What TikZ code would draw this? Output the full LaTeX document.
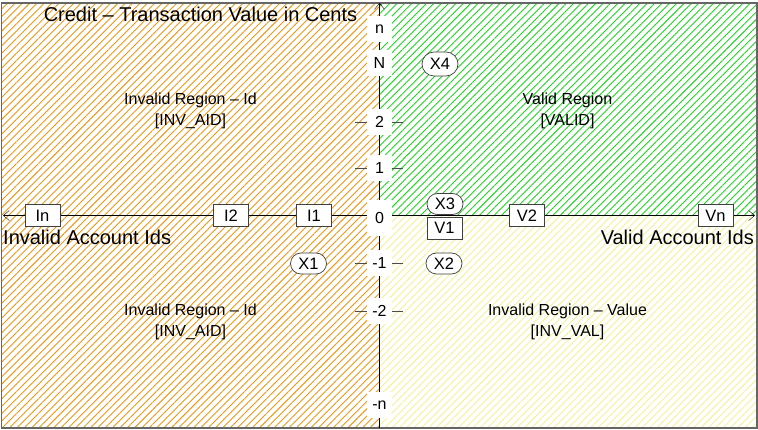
\documentclass[tikz,border=0pt]{standalone}
\usepackage{fontspec}
\setmainfont{Liberation Sans}
\usetikzlibrary{patterns.meta,shapes.misc,arrows.meta}
\definecolor{hatchorange}{RGB}{240,150,20}
\definecolor{hatchgreen}{RGB}{30,215,30}
\definecolor{hatchyellow}{RGB}{245,242,150}
\begin{document}
\begin{tikzpicture}[x=1pt, y=-1pt, >={Straight Barb[length=6pt,width=10pt]}, thin,
        hatch/.style={pattern={Lines[angle=45,distance=5.2pt,line width=0.9pt]}, pattern color=#1},
        valbox/.style={draw=black!75, line width=0.7pt, fill=white, minimum width=35pt, minimum height=22pt, inner sep=0pt, font=\fontsize{16.5}{16.5}\selectfont},
        casebox/.style={rounded rectangle, draw=black!75, line width=0.7pt, fill=white, minimum width=36pt, minimum height=21pt, inner sep=0pt, font=\fontsize{16.5}{16.5}\selectfont},
        ticklab/.style={fill=white, minimum width=25pt, minimum height=26pt, inner sep=0pt, font=\fontsize{16}{16}\selectfont},
        regionlab/.style={align=center, font=\fontsize{16}{21}\selectfont},
        axislab/.style={inner sep=0pt, font=\fontsize{20}{20}\selectfont}]
        \useasboundingbox (0, 0) rectangle (758, 430);
        \fill[white] (0, 0) rectangle (758, 430);
        \fill[hatch=hatchorange] (1.5, 3) rectangle (379.5, 428);
        \fill[hatch=hatchgreen] (379.5, 3) rectangle (757, 215.5);
        \fill[hatch=hatchyellow] (379.5, 215.5) rectangle (757, 428);
        \draw[black!60, line width=1.5pt] (1.5, 3) rectangle (757, 428);
        \coordinate (west) at (3, 215.5);
        \coordinate (east) at (755, 215.5);
        \coordinate (north) at (379.5, 3);
        \coordinate (south) at (379.5, 428);
        \draw[<->] (west) -- (east);
        \draw[->] (south) -- (north);
        \foreach \y in {122, 168, 263, 311} {
            \draw[black!70] (355, \y) -- (403, \y);
        };
        \foreach \y/\t/\nm in {29/n/tn, 63/N/tN, 122/2/ttwo, 168/1/tone, 263/-1/tmone, 311/-2/tmtwo, 405/-n/tmn} {
            \node[ticklab] (\nm) at (379.5, \y) {\t};
        };
        \node[ticklab, minimum height=36pt] (tzero) at (379.5, 218) {0};
        \foreach \x/\t in {42.5/In, 231/I2, 314/I1, 527/V2, 715.5/Vn} {
            \node[valbox] (\t) at (\x, 215.5) {\t};
        };
        \node[valbox] (V1) at (444.5, 228) {V1};
        \node[casebox] (X3) at (445, 204) {X3};
        \node[casebox] (X1) at (308.5, 263.5) {X1};
        \node[casebox] (X2) at (444, 263.5) {X2};
        \node[casebox, minimum height=24pt] (X4) at (440, 64) {X4};
        \node[axislab, anchor=base] (title) at (200.5, 22) {Credit – Transaction Value in Cents};
        \node[axislab, anchor=base west] (invacc) at (3, 245) {Invalid Account Ids};
        \node[axislab, anchor=base east] (valacc) at (754, 245) {Valid Account Ids};
        \node[regionlab] (invtop) at (190.5, 111) {Invalid Region – Id\\{}[INV\_AID]};
        \node[regionlab] (valid) at (567.5, 111) {Valid Region\\{}[VALID]};
        \node[regionlab] (invbot) at (190.5, 322) {Invalid Region – Id\\{}[INV\_AID]};
        \node[regionlab] (invval) at (567.5, 322) {Invalid Region – Value\\{}[INV\_VAL]};
\end{tikzpicture}
\end{document}
